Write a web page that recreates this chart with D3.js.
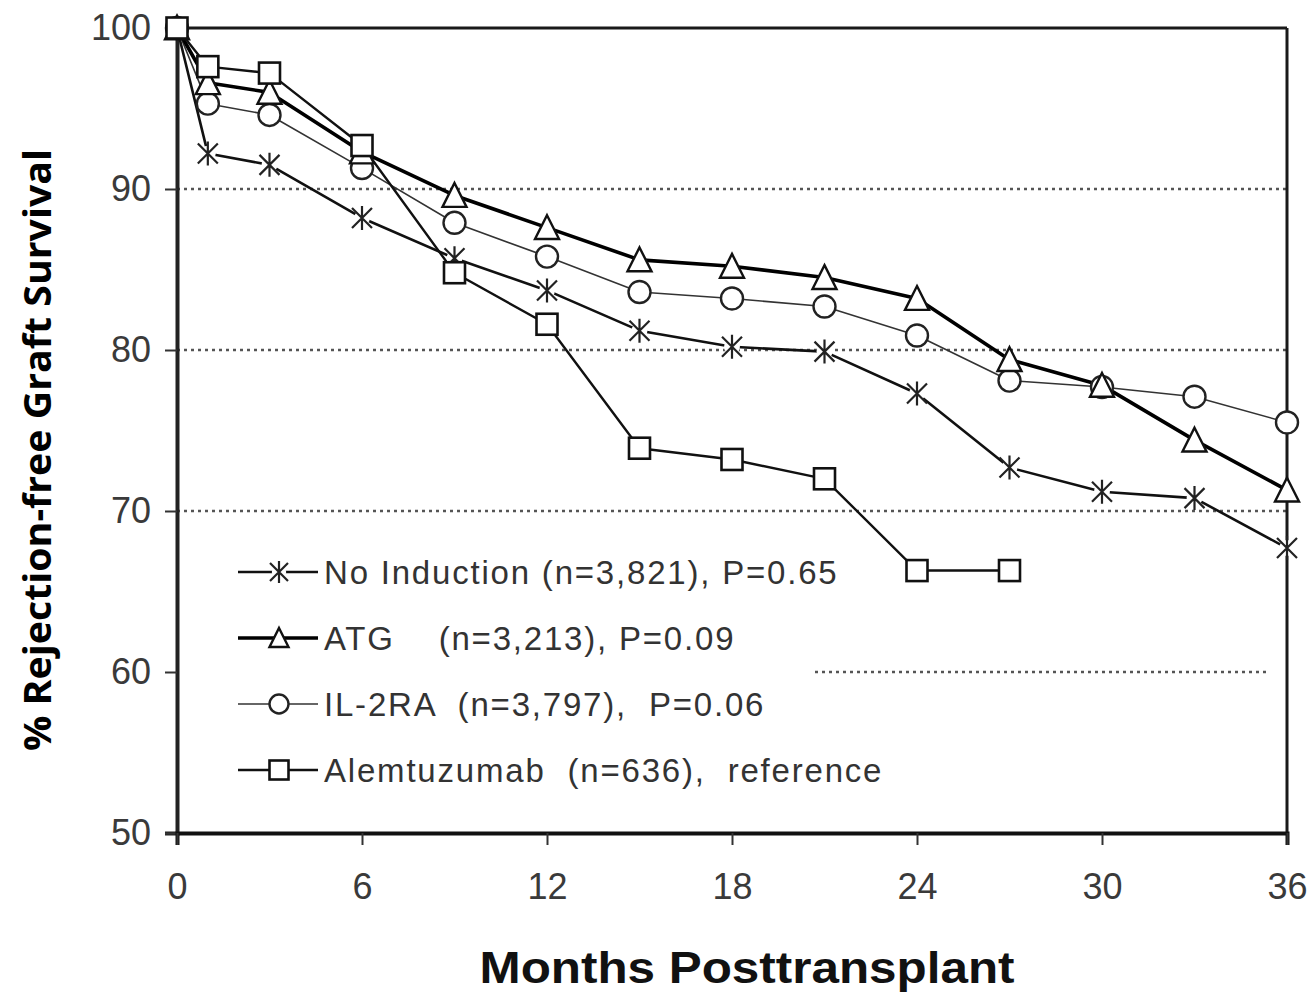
<!DOCTYPE html>
<html>
<head>
<meta charset="utf-8">
<script src="https://cdn.jsdelivr.net/npm/d3@7"></script>
<style>
  html, body { margin: 0; padding: 0; background: #fff; }
  svg { display: block; }
</style>
</head>
<body>
<svg id="chart" width="1311" height="1000"></svg>
<script>
// ---- data ----
const months = [0, 1, 3, 6, 9, 12, 15, 18, 21, 24, 27, 30, 33, 36];
const noInduction = [100, 92.2, 91.5, 88.2, 85.7, 83.7, 81.2, 80.2, 79.9, 77.3, 72.7, 71.2, 70.8, 67.7];
const atg        = [100, 96.6, 96.0, 92.3, 89.6, 87.6, 85.6, 85.2, 84.5, 83.2, 79.4, 77.8, 74.4, 71.3];
const il2ra      = [100, 95.3, 94.6, 91.3, 87.9, 85.8, 83.6, 83.2, 82.7, 80.9, 78.1, 77.7, 77.1, 75.5];
const alemtuzumab = [100, 97.6, 97.2, 92.7, 84.8, 81.6, 73.9, 73.2, 72.0, 66.3, 66.3];
const seriesNames = ["No Induction", "ATG", "IL-2RA", "Alemtuzumab"];
const legendLabels = [
  "No Induction (n=3,821), P=0.65",
  "ATG    (n=3,213), P=0.09",
  "IL-2RA  (n=3,797),  P=0.06",
  "Alemtuzumab  (n=636),  reference"
];
const xTicks = [0, 6, 12, 18, 24, 30, 36];
const yTicks = [50, 60, 70, 80, 90, 100];
const gridValues = [90, 80, 70];
const xTitle = "Months Posttransplant";
const yTitle = "% Rejection-free Graft Survival";

// ---- layout ----
const svg = d3.select("#chart");
const x = d3.scaleLinear().domain([0, 36]).range([177, 1287]);
const y = d3.scaleLinear().domain([50, 100]).range([833, 28]);

const series = [
  { name: seriesNames[0], values: noInduction, marker: "star",     lw: 2.6, color: "#111" },
  { name: seriesNames[2], values: il2ra,       marker: "circle",   lw: 1.6, color: "#333" },
  { name: seriesNames[1], values: atg,         marker: "triangle", lw: 3.6, color: "#000" },
  { name: seriesNames[3], values: alemtuzumab, marker: "square",   lw: 2.4, color: "#111" }
];
const legendOrder = ["No Induction", "ATG", "IL-2RA", "Alemtuzumab"];

// grid lines (dotted)
svg.append("g").selectAll("line").data(gridValues).join("line")
  .attr("x1", x(0)).attr("x2", x(36))
  .attr("y1", d => y(d)).attr("y2", d => y(d))
  .attr("stroke", "#555").attr("stroke-width", 2.4)
  .attr("stroke-dasharray", "3,4");
// partially visible 60 line
svg.append("line")
  .attr("x1", 815).attr("x2", 1270)
  .attr("y1", y(60)).attr("y2", y(60))
  .attr("stroke", "#555").attr("stroke-width", 2.4)
  .attr("stroke-dasharray", "3,4");

// frame top and right
svg.append("line").attr("x1", x(0)).attr("x2", x(36)).attr("y1", y(100)).attr("y2", y(100))
  .attr("stroke", "#1a1a1a").attr("stroke-width", 3);
svg.append("line").attr("x1", x(36)).attr("x2", x(36)).attr("y1", y(100)).attr("y2", y(50))
  .attr("stroke", "#1a1a1a").attr("stroke-width", 3);

// axes
const yAxis = d3.axisLeft(y).tickValues(yTicks).tickSize(12).tickPadding(14).tickFormat(d3.format("d"));
const gy = svg.append("g").attr("transform", `translate(${x(0)},0)`).call(yAxis);
gy.select(".domain").attr("stroke", "#222").attr("stroke-width", 4);
gy.selectAll(".tick line").attr("stroke", "#333").attr("stroke-width", 2);
gy.selectAll(".tick text").attr("font-family", "'Liberation Sans', Arial, sans-serif")
  .attr("font-size", 36).attr("fill", "#3a3a3a");

const xAxis = d3.axisBottom(x).tickValues(xTicks).tickSize(12).tickPadding(28).tickFormat(d3.format("d"));
const gx = svg.append("g").attr("transform", `translate(0,${y(50)})`).call(xAxis);
gx.select(".domain").attr("stroke", "#111").attr("stroke-width", 4);
gx.selectAll(".tick line").attr("stroke", "#333").attr("stroke-width", 2);
gx.selectAll(".tick text").attr("font-family", "'Liberation Sans', Arial, sans-serif")
  .attr("font-size", 36).attr("fill", "#3a3a3a");

// axis titles
svg.append("text")
  .attr("transform", `translate(51,450) rotate(-90)`)
  .attr("text-anchor", "middle")
  .attr("font-family", "'Open Sans', 'Noto Sans', sans-serif")
  .attr("font-weight", "bold").attr("font-size", 38)
  .attr("textLength", 602).attr("lengthAdjust", "spacingAndGlyphs")
  .attr("fill", "#000").text(yTitle);
svg.append("text")
  .attr("x", 747).attr("y", 983)
  .attr("text-anchor", "middle")
  .attr("font-family", "'Liberation Sans Narrow', 'Liberation Sans', Arial, sans-serif")
  .attr("font-weight", "bold").attr("font-size", 45)
  .attr("textLength", 535).attr("lengthAdjust", "spacingAndGlyphs")
  .attr("fill", "#111").text(xTitle);

// markers
function drawMarker(g, type, size) {
  const s = size;
  if (type === "square") {
    g.append("rect").attr("x", -s / 2).attr("y", -s / 2).attr("width", s).attr("height", s)
      .attr("fill", "#fff").attr("stroke", "#111").attr("stroke-width", 2.6);
  } else if (type === "circle") {
    g.append("circle").attr("r", s / 2).attr("fill", "#fff").attr("stroke", "#222").attr("stroke-width", 2.4);
  } else if (type === "triangle") {
    const h = s * 0.95;
    g.append("path").attr("d", `M0,${-h / 2 - 1} L${s / 2},${h / 2} L${-s / 2},${h / 2} Z`)
      .attr("fill", "#fff").attr("stroke", "#111").attr("stroke-width", 2.4);
  } else if (type === "star") {
    g.append("circle").attr("r", s * 0.36).attr("fill", "#fff");
    const a = s / 2 - 1;
    g.append("path").attr("d", `M${-a},${-a} L${a},${a} M${-a},${a} L${a},${-a} M0,${-a - 2} L0,${a + 2}`)
      .attr("stroke", "#222").attr("stroke-width", 2.2).attr("fill", "none");
  }
}
const markerSize = { square: 21, circle: 22, triangle: 24, star: 22 };

const line = d3.line().x(d => x(d[0])).y(d => y(d[1]));
// lines
series.forEach(s => {
  const pts = s.values.map((v, i) => [months[i], v]);
  svg.append("path").datum(pts).attr("d", line)
    .attr("fill", "none").attr("stroke", s.color).attr("stroke-width", s.lw)
    .attr("stroke-linejoin", "round");
});
// markers
series.forEach(s => {
  const pts = s.values.map((v, i) => [months[i], v]);
  svg.append("g").selectAll("g").data(pts).join("g")
    .attr("transform", d => `translate(${x(d[0])},${y(d[1])})`)
    .each(function () { drawMarker(d3.select(this), s.marker, markerSize[s.marker]); });
});

// legend
const legend = svg.append("g");
legend.append("rect").attr("x", 230).attr("y", 545).attr("width", 582).attr("height", 255).attr("fill", "#fff");
const rowY = [572, 638, 704, 770];
legendOrder.forEach((name, i) => {
  const s = series.find(d => d.name === name);
  const gRow = legend.append("g").attr("transform", `translate(0,${rowY[i]})`);
  gRow.append("line").attr("x1", 238).attr("x2", 318).attr("y1", 0).attr("y2", 0)
    .attr("stroke", s.color).attr("stroke-width", s.lw);
  const m = gRow.append("g").attr("transform", "translate(279,0)");
  drawMarker(m, s.marker, s.marker === "star" ? 20 : 19);
  gRow.append("text").attr("x", 324).attr("y", 12)
    .attr("font-family", "'Liberation Sans', Arial, sans-serif")
    .attr("font-size", 33).attr("letter-spacing", 1.8)
    .attr("fill", "#333").style("white-space", "pre")
    .text(legendLabels[i]);
});
</script>
</body>
</html>
